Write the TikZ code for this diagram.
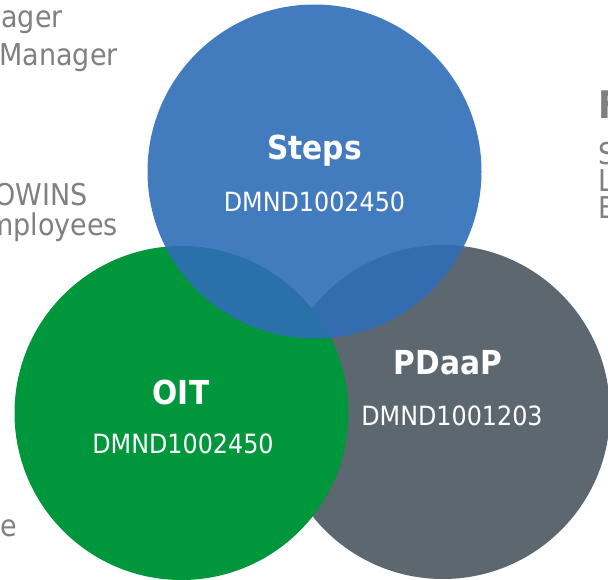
\documentclass[tikz,border=0pt]{standalone}
\usepackage{fontspec}
\setmainfont{DejaVu Sans}[FakeStretch=0.9]
\definecolor{stepsblue}{RGB}{47,110,183}
\definecolor{oitgreen}{RGB}{0,150,60}
\definecolor{pdgrey}{RGB}{93,103,112}
\definecolor{sidegrey}{RGB}{128,128,128}
\begin{document}
\begin{tikzpicture}[x=1pt,y=-1pt,
  venn/.style={circle, inner sep=0pt, minimum size=334pt},
  title/.style={text=white, anchor=base, inner sep=0pt, font=\fontsize{33}{38}\selectfont\bfseries},
  code/.style={text=white, anchor=base, inner sep=0pt, font=\fontsize{26.5}{32}\selectfont},
  side/.style={text=sidegrey, inner sep=0pt, font=\fontsize{30}{35}\selectfont},
  sidehead/.style={text=sidegrey, inner sep=0pt, font=\fontsize{38}{44}\selectfont\bfseries}]
\useasboundingbox (0,0) rectangle (608,580);
\clip (0,0) rectangle (608,580);
% side texts
\node[side, anchor=base east] (l1) at (63,28) {ager};
\node[side, anchor=base east] (l2) at (118,66) {Manager};
\node[side, anchor=base east] (l3) at (88,206) {OWINS};
\node[side, anchor=base east] (l4) at (118,236) {mployees};
\node[side, anchor=base east] (l5) at (17,536) {e};
\node[sidehead, anchor=base west] (r0) at (598,119) {F};
\node[side, anchor=base west] (r1) at (598,165) {S};
\node[side, anchor=base west] (r2) at (598,192) {L};
\node[side, anchor=base west] (r3) at (598,219) {B};
% circles
\node[venn, fill=pdgrey] (pdaap) at (443,412) {};
\node[venn, fill=oitgreen] (oit) at (181.5,413) {};
\node[venn, fill=stepsblue, fill opacity=0.9] (steps) at (314.5,171.5) {};
% labels
\node[title] (stepsT) at (314.5,160) {Steps};
\node[code] (stepsC) at (314.5,212) {DMND1002450};
\node[title] (oitT) at (181,404) {OIT};
\node[code] (oitC) at (183,453) {DMND1002450};
\node[title] (pdaapT) at (448,374) {PDaaP};
\node[code] (pdaapC) at (452,425) {DMND1001203};
\end{tikzpicture}
\end{document}
